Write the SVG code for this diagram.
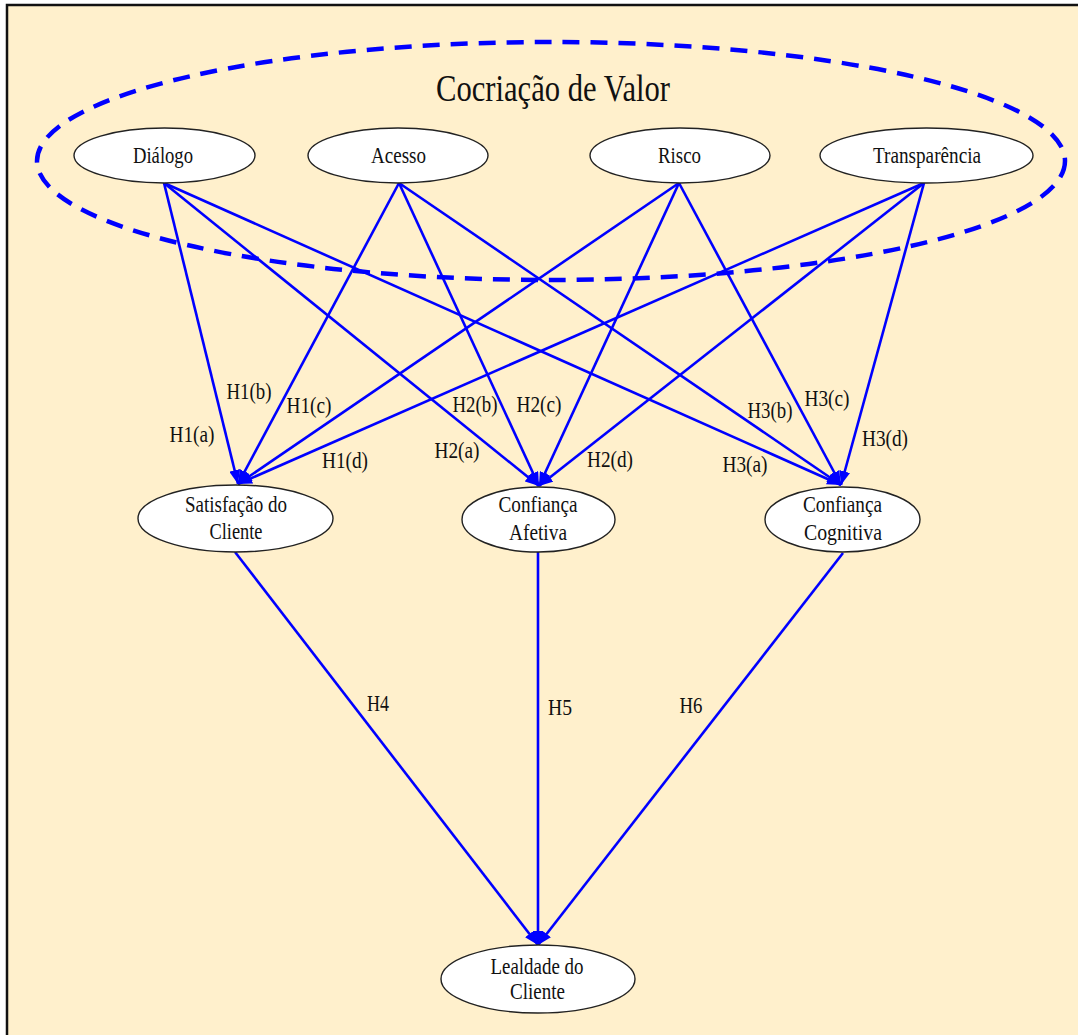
<svg xmlns="http://www.w3.org/2000/svg" width="1078" height="1035" viewBox="0 0 1078 1035">
<defs>
<style>
.bg{fill:#FFF0CC}
.frame{fill:none;stroke:#111;stroke-width:2.5}
.node ellipse{fill:#fff;stroke:#222;stroke-width:1.4}
text{font-family:"Liberation Serif","Times New Roman",serif;fill:#111}
.nt{font-size:24px;text-anchor:middle}
.lbl{font-size:23px;text-anchor:middle}
.title{font-size:38px;text-anchor:middle}
.edge{stroke:#0000FF;stroke-width:2.6;fill:none;marker-end:url(#ah)}
.cluster{fill:none;stroke:#0000FF;stroke-width:4.5;stroke-dasharray:17 11}
</style>
<marker id="ah" viewBox="0 0 14 11" refX="14" refY="5.5" markerWidth="14" markerHeight="11" markerUnits="userSpaceOnUse" orient="auto">
<path d="M0,0 L14,5.5 L0,11 z" fill="#0000FF"/>
</marker>
</defs>
<rect x="0" y="0" width="1078" height="1035" fill="#fff"/>
<rect class="bg" x="7" y="5" width="1071" height="1030"/>
<path class="frame" d="M7,1035 L7,5 L1078,5"/>
<g id="cluster-cocriacao">
<ellipse class="cluster" cx="551" cy="161" rx="514" ry="119"/>
<text class="title" x="553" y="101" textLength="234" lengthAdjust="spacingAndGlyphs">Cocriação de Valor</text>
</g>
<g id="connectors">
<line class="edge" x1="164" y1="183" x2="238" y2="484"/>
<line class="edge" x1="164" y1="183" x2="539" y2="486"/>
<line class="edge" x1="164" y1="183" x2="841" y2="485"/>
<line class="edge" x1="399" y1="183" x2="238" y2="484"/>
<line class="edge" x1="399" y1="183" x2="539" y2="486"/>
<line class="edge" x1="399" y1="183" x2="841" y2="485"/>
<line class="edge" x1="679" y1="183" x2="238" y2="484"/>
<line class="edge" x1="679" y1="183" x2="539" y2="486"/>
<line class="edge" x1="679" y1="183" x2="841" y2="485"/>
<line class="edge" x1="924" y1="183" x2="238" y2="484"/>
<line class="edge" x1="924" y1="183" x2="539" y2="486"/>
<line class="edge" x1="924" y1="183" x2="841" y2="485"/>
<line class="edge" x1="235" y1="552" x2="538" y2="945"/>
<line class="edge" x1="538" y1="552" x2="538" y2="945"/>
<line class="edge" x1="843" y1="553" x2="538" y2="945"/>
<text class="lbl" x="192" y="442" textLength="45" lengthAdjust="spacingAndGlyphs">H1(a)</text>
<text class="lbl" x="249" y="399" textLength="45" lengthAdjust="spacingAndGlyphs">H1(b)</text>
<text class="lbl" x="309" y="413" textLength="45" lengthAdjust="spacingAndGlyphs">H1(c)</text>
<text class="lbl" x="345" y="468" textLength="46" lengthAdjust="spacingAndGlyphs">H1(d)</text>
<text class="lbl" x="457" y="458" textLength="45" lengthAdjust="spacingAndGlyphs">H2(a)</text>
<text class="lbl" x="475" y="412" textLength="45" lengthAdjust="spacingAndGlyphs">H2(b)</text>
<text class="lbl" x="539" y="412" textLength="45" lengthAdjust="spacingAndGlyphs">H2(c)</text>
<text class="lbl" x="610" y="467" textLength="46" lengthAdjust="spacingAndGlyphs">H2(d)</text>
<text class="lbl" x="745" y="472" textLength="45" lengthAdjust="spacingAndGlyphs">H3(a)</text>
<text class="lbl" x="770" y="418" textLength="45" lengthAdjust="spacingAndGlyphs">H3(b)</text>
<text class="lbl" x="827" y="406" textLength="45" lengthAdjust="spacingAndGlyphs">H3(c)</text>
<text class="lbl" x="885" y="446" textLength="46" lengthAdjust="spacingAndGlyphs">H3(d)</text>
<text class="lbl" x="378" y="711" textLength="22" lengthAdjust="spacingAndGlyphs">H4</text>
<text class="lbl" x="560" y="715" textLength="24" lengthAdjust="spacingAndGlyphs">H5</text>
<text class="lbl" x="691" y="713" textLength="23" lengthAdjust="spacingAndGlyphs">H6</text>
</g>
<g id="node-dialogo" class="node">
<ellipse cx="164.5" cy="155.5" rx="90.5" ry="27.5"/>
<text class="nt" x="163" y="163" textLength="60" lengthAdjust="spacingAndGlyphs">Diálogo</text>
</g>
<g id="node-acesso" class="node">
<ellipse cx="398" cy="155.5" rx="90" ry="27.5"/>
<text class="nt" x="398.5" y="163" textLength="55" lengthAdjust="spacingAndGlyphs">Acesso</text>
</g>
<g id="node-risco" class="node">
<ellipse cx="680" cy="155.5" rx="90" ry="27.5"/>
<text class="nt" x="679.5" y="163" textLength="43" lengthAdjust="spacingAndGlyphs">Risco</text>
</g>
<g id="node-transparencia" class="node">
<ellipse cx="926.5" cy="155.5" rx="106.5" ry="27.5"/>
<text class="nt" x="927" y="163" textLength="108" lengthAdjust="spacingAndGlyphs">Transparência</text>
</g>
<g id="node-satisfacao" class="node">
<ellipse cx="235.5" cy="518.5" rx="97.5" ry="33.5"/>
<text class="nt" x="236" y="512" textLength="102" lengthAdjust="spacingAndGlyphs">Satisfação do</text>
<text class="nt" x="236" y="539" textLength="53" lengthAdjust="spacingAndGlyphs">Cliente</text>
</g>
<g id="node-afetiva" class="node">
<ellipse cx="538.5" cy="519.5" rx="76.5" ry="32.5"/>
<text class="nt" x="538" y="512" textLength="79" lengthAdjust="spacingAndGlyphs">Confiança</text>
<text class="nt" x="538" y="540" textLength="58" lengthAdjust="spacingAndGlyphs">Afetiva</text>
</g>
<g id="node-cognitiva" class="node">
<ellipse cx="842.5" cy="519.5" rx="77.5" ry="32.5"/>
<text class="nt" x="842.5" y="512" textLength="79" lengthAdjust="spacingAndGlyphs">Confiança</text>
<text class="nt" x="843" y="540" textLength="78" lengthAdjust="spacingAndGlyphs">Cognitiva</text>
</g>
<g id="node-lealdade" class="node">
<ellipse cx="538" cy="979" rx="97" ry="34"/>
<text class="nt" x="537" y="974" textLength="93" lengthAdjust="spacingAndGlyphs">Lealdade do</text>
<text class="nt" x="537.5" y="999" textLength="55" lengthAdjust="spacingAndGlyphs">Cliente</text>
</g>
</svg>
